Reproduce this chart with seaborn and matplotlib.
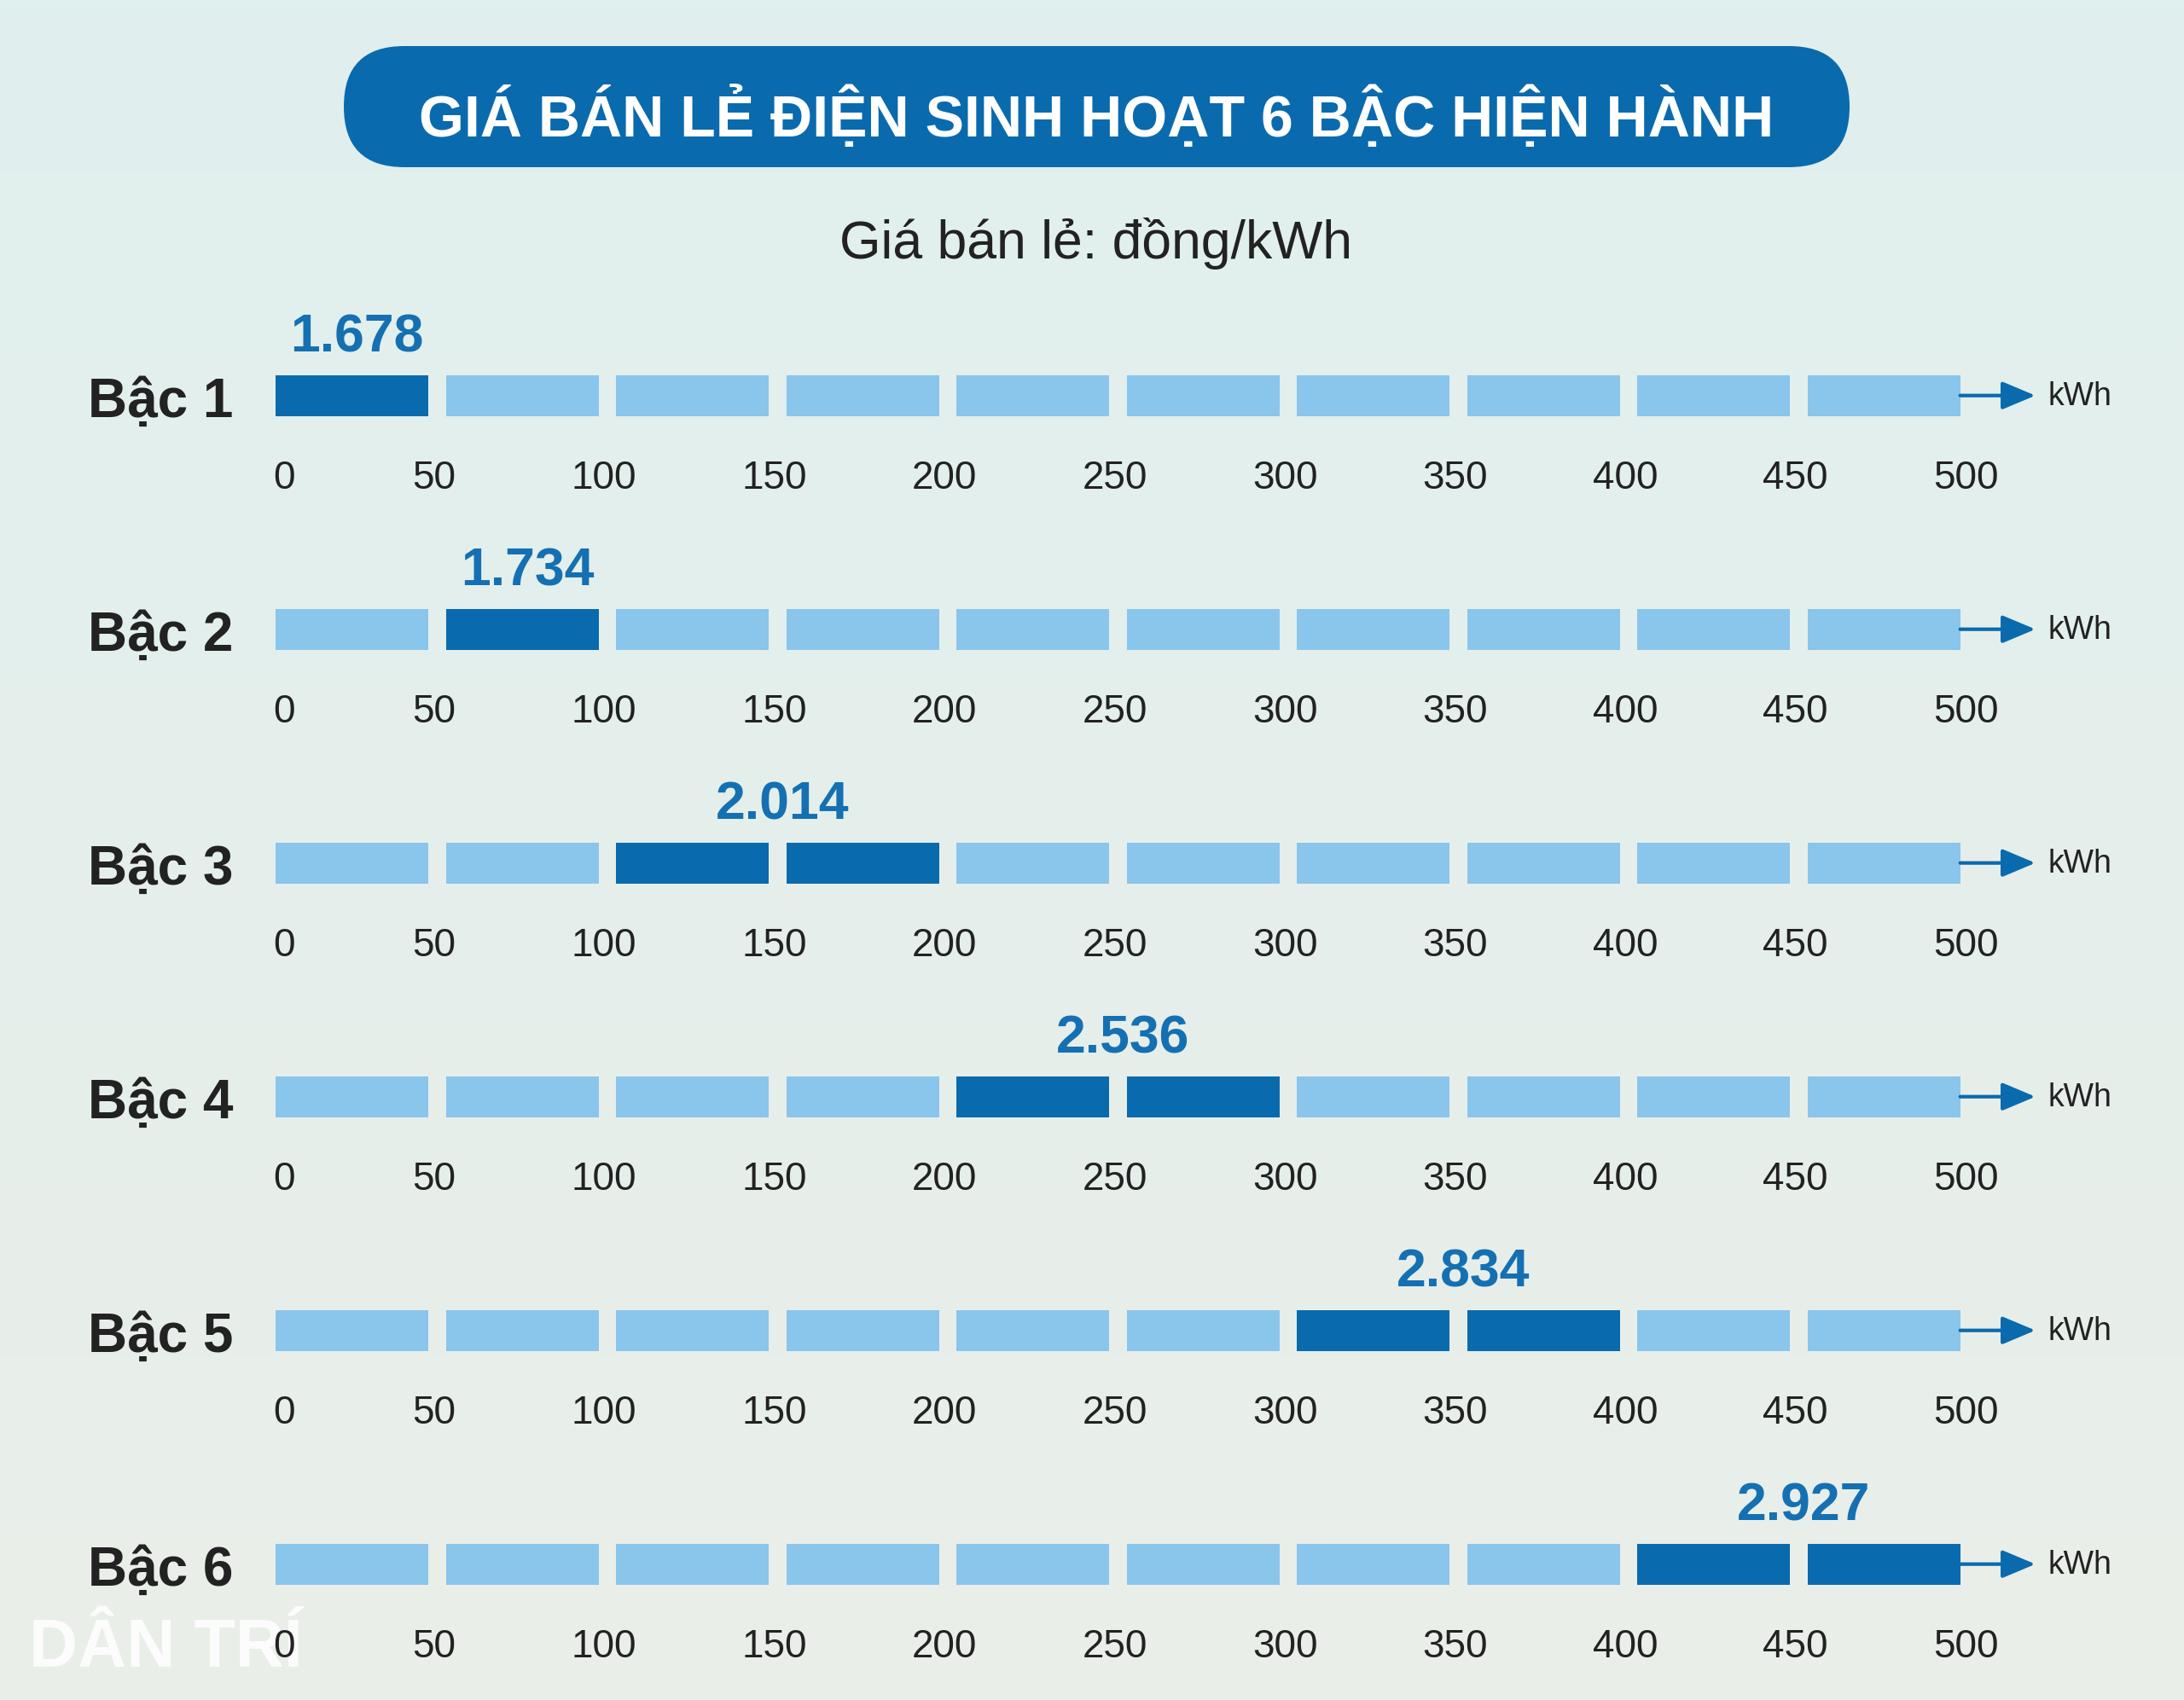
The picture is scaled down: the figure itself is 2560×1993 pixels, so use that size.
import numpy as np
import pandas as pd
import matplotlib
matplotlib.use("Agg")
import matplotlib.pyplot as plt
import seaborn as sns
from matplotlib.patches import FancyBboxPatch
from matplotlib import font_manager

# ---------------- data ----------------
tiers = ["Bậc 1", "Bậc 2", "Bậc 3", "Bậc 4", "Bậc 5", "Bậc 6"]
prices = [1678, 1734, 2014, 2536, 2834, 2927]          # đồng/kWh
tier_start = [0, 50, 100, 200, 300, 400]                 # kWh
tier_end = [50, 100, 200, 300, 400, 500]                 # kWh
segment_edges = [0, 50, 100, 150, 200, 250, 300, 350, 400, 450, 500]
tick_labels = ["0", "50", "100", "150", "200", "250", "300", "350", "400", "450", "500"]
title = "GIÁ BÁN LẺ ĐIỆN SINH HOẠT 6 BẬC HIỆN HÀNH"
subtitle = "Giá bán lẻ: đồng/kWh"
unit = "kWh"

# ---------------- style ----------------
sns.set_theme(style="white")
installed = {f.name for f in font_manager.fontManager.ttflist}
base = "Liberation Sans" if "Liberation Sans" in installed else "DejaVu Sans"
narrow = "Liberation Sans Narrow" if "Liberation Sans Narrow" in installed else base
plt.rcParams["font.family"] = [base, "DejaVu Sans"]

DARK = "#0a6aae"
LIGHT = "#8ac5ec"
TEXT = "#222222"
VALUE = "#1470b2"

W, H = 2560, 1993
fig = plt.figure(figsize=(W / 100, H / 100), dpi=100)

# background axes in pixel coordinates
bg = fig.add_axes([0, 0, 1, 1])
bg.set_xlim(0, W)
bg.set_ylim(H, 0)
bg.axis("off")
top = np.array([224, 240, 238]) / 255
bot = np.array([234, 238, 233]) / 255
t = np.linspace(0, 1, 256)[:, None, None]
grad = top[None, None, :] * (1 - t) + bot[None, None, :] * t
bg.imshow(grad, extent=[0, W, H, 0], aspect="auto", zorder=0)

pill = FancyBboxPatch((403, 54), 2168 - 403, 196 - 54,
                      boxstyle="round,pad=0,rounding_size=71",
                      facecolor=DARK, edgecolor="none", zorder=1)
bg.add_patch(pill)

ttl = bg.text(1285, 160, title, ha="center", va="baseline", color="white",
              fontsize=60, fontweight="bold", family=[narrow, "DejaVu Sans"], zorder=2)
# fit title width to the reference (~1590 px)
fig.canvas.draw()
ext = ttl.get_window_extent()
ttl.set_fontsize(60 * 1590 / ext.width)

bg.text(1285, 303, subtitle, ha="center", va="baseline", color=TEXT,
        fontsize=45, zorder=2)

# bars axes: x in kWh, y in pixels
ax = fig.add_axes([0, 0, 1, 1])
ax.patch.set_alpha(0)
px_per_kwh = 199.5 / 50
x0_px = 313
ax.set_xlim(-x0_px / px_per_kwh, (W - x0_px) / px_per_kwh)
ax.set_ylim(H, 0)
ax.axis("off")

row_y = [463.7 + 274 * i for i in range(len(tiers))]
bar_h = 48
gap = 5.2  # kWh

for i, name in enumerate(tiers):
    y = row_y[i]
    lefts = np.array(segment_edges[:-1]) + gap / 2
    widths = np.diff(segment_edges) - gap
    colors = [DARK if (tier_start[i] <= l < tier_end[i]) else LIGHT for l in lefts]
    ax.barh([y] * len(lefts), widths, left=lefts, height=bar_h, color=colors,
            edgecolor="none", zorder=2)
    # arrow
    ax.annotate("", xy=(519.5, y), xytext=(segment_edges[-1] - gap / 2, y),
                arrowprops=dict(arrowstyle="-|>,head_length=1.0,head_width=0.42",
                                lw=3, color=DARK, mutation_scale=24,
                                shrinkA=0, shrinkB=0), zorder=2)
    ax.text(523.3, y + 1, unit, ha="left", va="center", fontsize=27, color=TEXT)
    # row label
    ax.text(-10, y + 25, name, ha="right", va="baseline", fontsize=46,
            fontweight="bold", color=TEXT)
    # price value
    vtxt = f"{prices[i]:,}".replace(",", ".")
    ax.text((tier_start[i] + tier_end[i]) / 2 + 1.5, y - 51, vtxt, ha="center",
            va="baseline", fontsize=45, fontweight="bold", color=VALUE)
    # tick labels
    for e, lab in zip(segment_edges, tick_labels):
        ax.text(e + (5 if e == 0 else -1), y + 109, lab, ha="center", va="baseline",
                fontsize=33, color=TEXT, family=[narrow, "DejaVu Sans"])

# watermark
bg.text(34, 1954, "DÂN TRÍ", ha="left", va="baseline", color="white", alpha=0.85,
        fontsize=57, fontweight="heavy", family=[narrow, "DejaVu Sans"], zorder=5)

fig.savefig("out.png", dpi=100)
